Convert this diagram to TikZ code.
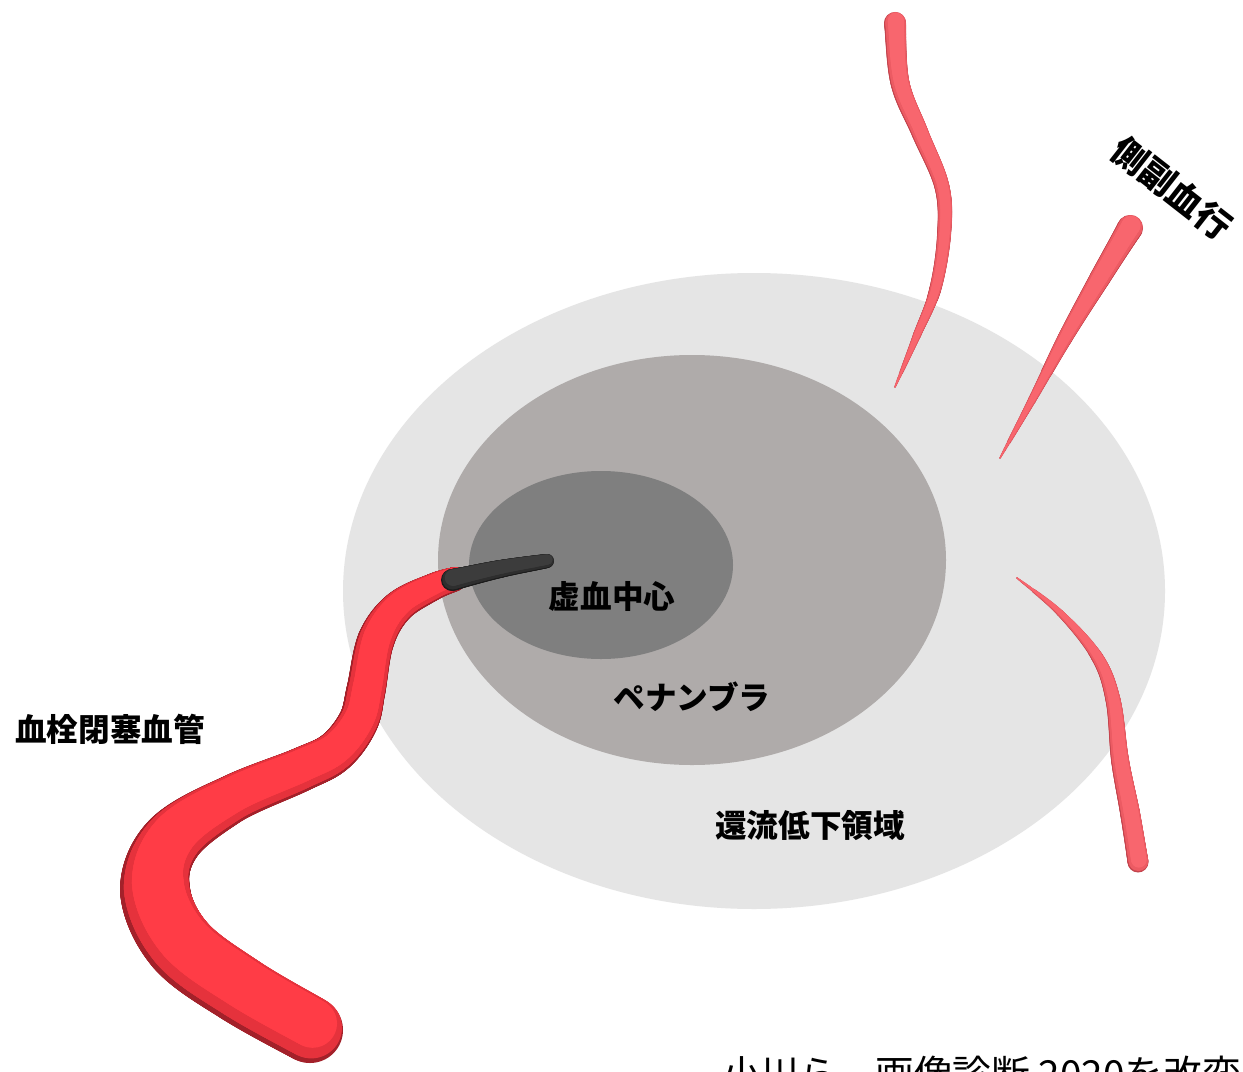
\documentclass[tikz,border=0pt]{standalone}
\usepackage{fontspec}
\setmainfont{Noto Sans CJK JP}
\usepackage{tikz}
\definecolor{Hypo}{HTML}{E5E5E5}
\definecolor{Penumbra}{HTML}{AFABAA}
\definecolor{Core}{HTML}{7F7F7F}
\definecolor{RedDark}{HTML}{A3212A}
\definecolor{RedMid}{HTML}{E5323C}
\definecolor{RedLite}{HTML}{FF3C46}
\definecolor{PinkDark}{HTML}{C4454E}
\definecolor{PinkMid}{HTML}{EC5B63}
\definecolor{PinkLite}{HTML}{F8666E}
\definecolor{ClotDark}{HTML}{1C1C1C}
\definecolor{ClotMid}{HTML}{2E2E2E}
\definecolor{ClotLite}{HTML}{3C3C3C}

% tube through the points (#1 = x list, #2 = y list, #3 = radius list), Catmull-Rom centre line,
% filled with circles in three passes: dark rim, mid tone, highlight
\newcommand\tube[4]{%
  \pgfmathtruncatemacro\tbLast{dim({#1})-1}%
  \pgfmathtruncatemacro\tbSegs{\tbLast-1}%
  \foreach \lk/\lx/\ly/\lay in {1/0/0/Dark, 0.93/0.04/0.07/Mid, 0.74/0.08/0.2/Lite}{%
    \edef\tbcol{#4\lay}%
    \foreach \i in {0,...,\tbSegs}{%
      \pgfmathtruncatemacro\ia{max(\i-1,0)}%
      \pgfmathtruncatemacro\ib{\i+1}%
      \pgfmathtruncatemacro\ic{min(\i+2,\tbLast)}%
      \pgfmathsetmacro\tbXa{{#1}[\ia]}\pgfmathsetmacro\tbXb{{#1}[\i]}%
      \pgfmathsetmacro\tbXc{{#1}[\ib]}\pgfmathsetmacro\tbXd{{#1}[\ic]}%
      \pgfmathsetmacro\tbYa{{#2}[\ia]}\pgfmathsetmacro\tbYb{{#2}[\i]}%
      \pgfmathsetmacro\tbYc{{#2}[\ib]}\pgfmathsetmacro\tbYd{{#2}[\ic]}%
      \pgfmathsetmacro\tbRb{{#3}[\i]}\pgfmathsetmacro\tbRc{{#3}[\ib]}%
      \pgfmathsetmacro\tbBx{0.5*(\tbXc-\tbXa)}%
      \pgfmathsetmacro\tbCx{0.5*(2*\tbXa-5*\tbXb+4*\tbXc-\tbXd)}%
      \pgfmathsetmacro\tbDx{0.5*(3*\tbXb-\tbXa-3*\tbXc+\tbXd)}%
      \pgfmathsetmacro\tbBy{0.5*(\tbYc-\tbYa)}%
      \pgfmathsetmacro\tbCy{0.5*(2*\tbYa-5*\tbYb+4*\tbYc-\tbYd)}%
      \pgfmathsetmacro\tbDy{0.5*(3*\tbYb-\tbYa-3*\tbYc+\tbYd)}%
      \foreach \tp in {0,0.025,...,1}{%
        \pgfmathsetmacro\tbX{\tbXb+\tp*((\tbBx)+\tp*((\tbCx)+\tp*(\tbDx)))}%
        \pgfmathsetmacro\tbY{\tbYb+\tp*((\tbBy)+\tp*((\tbCy)+\tp*(\tbDy)))}%
        \pgfmathsetmacro\tbR{\tbRb+(\tbRc-\tbRb)*\tp}%
        \fill[fill=\tbcol] ({\tbX+\lx*\tbR},{\tbY-\ly*\tbR}) circle [radius=\lk*\tbR];
      }%
    }%
  }%
}

\begin{document}
\begin{tikzpicture}[x=0.02cm, y=-0.02cm, font=\bfseries\fontsize{18}{20}\selectfont]
  \path[use as bounding box, clip] (0,0) rectangle (1243,1071);
  \fill[white] (0,0) rectangle (1243,1071);

  % regions
  \fill[Hypo] (754,591) ellipse [x radius=411, y radius=318];
  \fill[Penumbra] (692,560) ellipse [x radius=254, y radius=205];
  \fill[Core] (601,565) ellipse [x radius=132, y radius=94];

  % occluded vessel and thrombus
  \tube{310,240,180,155,172,230,300,335,358,366,376,398,433,455}
       {1030,990,945,890,840,800,770,752,722,690,640,607,587,579}
       {33,34,35,35,30,24,22,21,20,19.5,18.5,16,13.5,12}{Red}
  \tube{452,500,547}{580,569,561}{11,9,7}{Clot}

  % collaterals
  \tube{895,900,920,942,944,935,917,895}{23,83,133,187,235,290,335,387}
       {11,9.5,8.5,7.5,7,6,4.2,0.8}{Pink}
  \tube{1130,1100,1065,1032,1000}{228,278,338,400,458}{13,10.5,7.5,4.2,0.8}{Pink}
  \tube{1017,1060,1097,1113,1120,1130,1138}{578,613,657,700,760,813,862}
       {0.8,3.5,6,7.5,9,10,10.5}{Pink}

  % labels
  \node (core) at (612,596) {虚血中心};
  \node (penumbra) at (692,697) {ペナンブラ};
  \node (hypo) at (810,826) {還流低下領域};
  \node (occluded) at (110,729) {血栓閉塞血管};
  \node[rotate=-38, font=\bfseries\fontsize{20}{22}\selectfont] (collateral) at (1172,188) {側副血行};
  \node[anchor=base west, font=\mdseries\fontsize{22}{24}\selectfont] (source) at (716,1088) {小川ら，画像診断 2020を改変};
\end{tikzpicture}
\end{document}
